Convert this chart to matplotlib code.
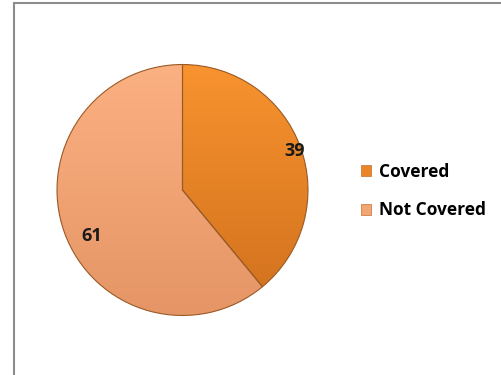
import matplotlib
matplotlib.use("Agg")
import matplotlib.pyplot as plt
import numpy as np
from matplotlib.colors import LinearSegmentedColormap
from matplotlib.patches import Rectangle, Patch

categories = ["Covered", "Not Covered"]
values = [39, 61]
value_labels = ["39", "61"]

top_colors = ["#F8932F", "#FCB182"]
bottom_colors = ["#D0701D", "#E59566"]
mid_colors = ["#EA8628", "#F3A574"]

fig = plt.figure(figsize=(5.01, 3.75), dpi=100)
fig.patch.set_facecolor("white")

# chart border
fig.patches.append(Rectangle((14/501, -0.1), 1.2, 1.1 - 3/375, transform=fig.transFigure,
                             fill=False, edgecolor="#8C8C8C", linewidth=1.5, zorder=0))

ax = fig.add_axes([(182.5-128)/501, 1-(190+128)/375, 256/501, 256/375])
wedges, _ = ax.pie(values, startangle=90, counterclock=False, colors=mid_colors,
                   wedgeprops=dict(edgecolor="#9A5A25", linewidth=0.8))
ax.axis("off")

grad = np.linspace(1, 0, 256).reshape(-1, 1)
for w, tc, bc in zip(wedges, top_colors, bottom_colors):
    cmap = LinearSegmentedColormap.from_list("g", [bc, tc])
    im = ax.imshow(grad, cmap=cmap, extent=[-1, 1, -1, 1], origin="upper", zorder=1.5,
                   aspect="auto")
    im.set_clip_path(w)
    w.set_facecolor("none")
    w.set_zorder(2)
ax.set_xlim(-1.02, 1.02)
ax.set_ylim(-1.02, 1.02)
ax.set_aspect("equal")

label_pos = [(0.894, 0.312), (-0.723, -0.367)]
for (x, y), t in zip(label_pos, value_labels):
    ax.text(x, y, t, ha="center", va="center", fontsize=13, fontweight="bold",
            family="Open Sans", color="#1a1a1a", zorder=3)

handles = [Patch(facecolor=c, edgecolor="#C07030", linewidth=0.5) for c in mid_colors]
leg = fig.legend(handles, categories, loc="center left", bbox_to_anchor=(361/501, 1-191/375),
                 frameon=False, handlelength=0.6, handleheight=0.6, handletextpad=0.45,
                 labelspacing=1.2, borderaxespad=0, borderpad=0,
                 prop=dict(family="Open Sans", weight="bold", size=12.5))

fig.savefig("out.png", dpi=100, facecolor="white")
